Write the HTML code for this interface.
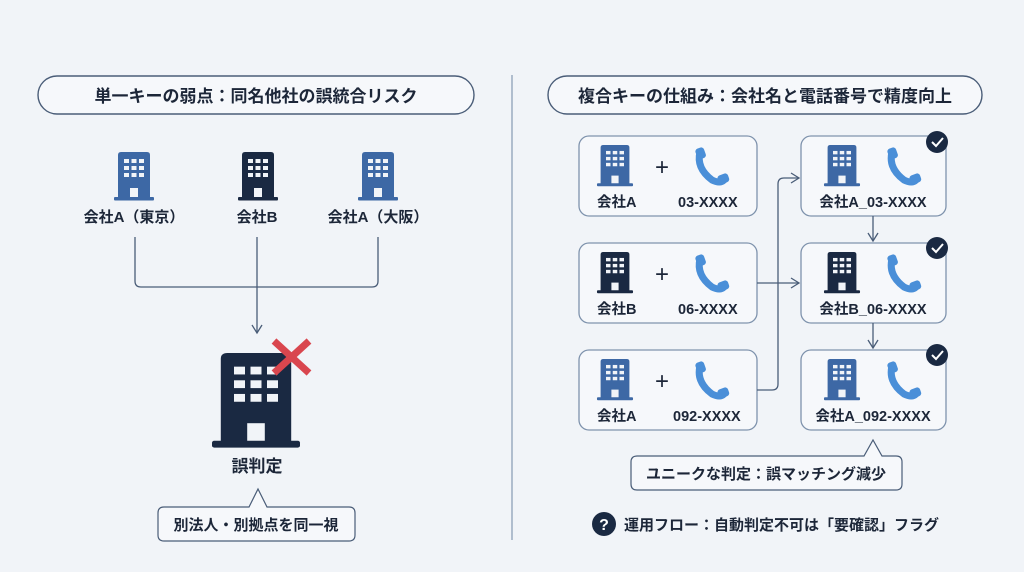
<!DOCTYPE html>
<html><head><meta charset="utf-8"><style>
html,body{margin:0;padding:0;background:#f1f4f8}
svg{display:block}
text{font-family:"Liberation Sans","Noto Sans CJK JP",sans-serif;font-weight:bold;fill:#1c2638}
</style></head><body>
<svg width="1024" height="572" viewBox="0 0 1024 572" xmlns="http://www.w3.org/2000/svg">
<defs>
<g id="bld">
<path d="M4 46 V3 Q4 0 7 0 H33 Q36 0 36 3 V46 Z"/>
<rect x="0" y="45" width="40" height="3.5" rx="1"/>
<g fill="#f1f4f8">
<rect x="10" y="7" width="5" height="4"/><rect x="17.5" y="7" width="5" height="4"/><rect x="25" y="7" width="5" height="4"/>
<rect x="10" y="14" width="5" height="4"/><rect x="17.5" y="14" width="5" height="4"/><rect x="25" y="14" width="5" height="4"/>
<rect x="10" y="21" width="5" height="4"/><rect x="17.5" y="21" width="5" height="4"/><rect x="25" y="21" width="5" height="4"/>
<rect x="16" y="36" width="8" height="9"/>
</g></g>
<g id="ph">
<path d="M6 4 Q2 20 18 32 Q26 36 30 32" fill="none" stroke="#4a8fd8" stroke-width="7" stroke-linecap="round"/>
<rect x="2" y="0" width="9" height="11" rx="3" fill="#4a8fd8" transform="rotate(-20 6 5)"/>
<rect x="24" y="26" width="11" height="9" rx="3" fill="#4a8fd8" transform="rotate(-20 30 31)"/>
</g>
<marker id="ar" markerWidth="12" markerHeight="12" refX="10" refY="6" orient="auto" markerUnits="userSpaceOnUse">
<path d="M2 1 L10 6 L2 11" fill="none" stroke="#4a5d78" stroke-width="1.3"/></marker>
</defs>

<!-- divider -->
<line x1="512" y1="75" x2="512" y2="540" stroke="#8ea0b8" stroke-width="1.3"/>

<!-- LEFT -->
<rect x="38" y="76" width="436" height="38" rx="19" fill="#f6f8fb" stroke="#4a5d78" stroke-width="1.4"/>
<text x="256" y="102" font-size="17" text-anchor="middle">単一キーの弱点：同名他社の誤統合リスク</text>

<use href="#bld" x="114" y="152" fill="#3d68a5"/>
<use href="#bld" x="238" y="152" fill="#1a2942"/>
<use href="#bld" x="358" y="152" fill="#3d68a5"/>
<text x="134" y="222" font-size="15" text-anchor="middle">会社A（東京）</text>
<text x="257" y="222" font-size="15" text-anchor="middle">会社B</text>
<text x="378" y="222" font-size="15" text-anchor="middle">会社A（大阪）</text>

<path d="M135 237 V281 Q135 287 141 287 H372 Q378 287 378 281 V237" fill="none" stroke="#4a5d78" stroke-width="1.3"/>
<line x1="257" y1="237" x2="257" y2="333" stroke="#4a5d78" stroke-width="1.3" marker-end="url(#ar)"/>

<use href="#bld" transform="translate(212 353) scale(2.2 1.95)" fill="#1a2942"/>
<rect x="266" y="341" width="40" height="40" fill="#f1f4f8" opacity="0"/>
<g stroke="#d9464e" stroke-width="7" stroke-linecap="butt">
<line x1="274" y1="341" x2="309" y2="373"/><line x1="309" y1="341" x2="274" y2="373"/></g>
<text x="257" y="472" font-size="17" text-anchor="middle">誤判定</text>

<path d="M164 507 H249 L258 489 L267 507 H349 Q355 507 355 513 V535 Q355 541 349 541 H164 Q158 541 158 535 V513 Q158 507 164 507 Z" fill="#f6f8fb" stroke="#4a5d78" stroke-width="1.2"/>
<text x="256" y="530" font-size="15" text-anchor="middle">別法人・別拠点を同一視</text>

<!-- RIGHT -->
<rect x="548" y="76" width="434" height="38" rx="19" fill="#f6f8fb" stroke="#4a5d78" stroke-width="1.4"/>
<text x="765" y="102" font-size="17" text-anchor="middle">複合キーの仕組み：会社名と電話番号で精度向上</text>

<g fill="#f6f8fb" stroke="#7f93ad" stroke-width="1.3">
<rect x="579" y="136" width="178" height="80" rx="10"/>
<rect x="579" y="243" width="178" height="80" rx="10"/>
<rect x="579" y="350" width="178" height="80" rx="10"/>
<rect x="801" y="136" width="145" height="80" rx="10"/>
<rect x="801" y="243" width="145" height="80" rx="10"/>
<rect x="801" y="350" width="145" height="80" rx="10"/>
</g>

<use href="#bld" transform="translate(597 145) scale(0.9 0.85)" fill="#3d68a5"/>
<use href="#bld" transform="translate(597 252) scale(0.9 0.85)" fill="#1a2942"/>
<use href="#bld" transform="translate(597 359) scale(0.9 0.85)" fill="#3d68a5"/>
<use href="#bld" transform="translate(824 145) scale(0.9 0.85)" fill="#3d68a5"/>
<use href="#bld" transform="translate(824 252) scale(0.9 0.85)" fill="#1a2942"/>
<use href="#bld" transform="translate(824 359) scale(0.9 0.85)" fill="#3d68a5"/>

<g font-size="24" font-weight="normal">
<text x="662" y="175" text-anchor="middle" style="font-weight:normal">+</text>
<text x="662" y="282" text-anchor="middle" style="font-weight:normal">+</text>
<text x="662" y="389" text-anchor="middle" style="font-weight:normal">+</text>
</g>
<use href="#ph" x="694" y="148"/><use href="#ph" x="694" y="255"/><use href="#ph" x="694" y="362"/>
<use href="#ph" x="886" y="148"/><use href="#ph" x="886" y="255"/><use href="#ph" x="886" y="362"/>

<g font-size="14.5">
<text x="597" y="207">会社A</text><text x="678" y="207">03-XXXX</text>
<text x="597" y="314">会社B</text><text x="678" y="314">06-XXXX</text>
<text x="597" y="421">会社A</text><text x="673" y="421">092-XXXX</text>
<text x="873" y="207" text-anchor="middle">会社A_03-XXXX</text>
<text x="873" y="314" text-anchor="middle">会社B_06-XXXX</text>
<text x="873" y="421" text-anchor="middle">会社A_092-XXXX</text>
</g>

<g>
<circle cx="937" cy="142" r="11" fill="#1a2942"/><path d="M932 142 L936 146 L943 138" fill="none" stroke="#fff" stroke-width="2"/>
<circle cx="937" cy="248" r="11" fill="#1a2942"/><path d="M932 248 L936 252 L943 244" fill="none" stroke="#fff" stroke-width="2"/>
<circle cx="937" cy="355" r="11" fill="#1a2942"/><path d="M932 355 L936 359 L943 351" fill="none" stroke="#fff" stroke-width="2"/>
</g>

<g fill="none" stroke="#4a5d78" stroke-width="1.3">
<path d="M757 390 H772 Q778 390 778 384 V184 Q778 178 784 178 H799" marker-end="url(#ar)"/>
<path d="M757 283 H799" marker-end="url(#ar)"/>
<path d="M873 216 V241" marker-end="url(#ar)"/>
<path d="M873 323 V348" marker-end="url(#ar)"/>
</g>

<path d="M637 456 H864 L873 440 L882 456 H896 Q902 456 902 462 V484 Q902 490 896 490 H637 Q631 490 631 484 V462 Q631 456 637 456 Z" fill="#f6f8fb" stroke="#4a5d78" stroke-width="1.2"/>
<text x="766" y="479" font-size="15" text-anchor="middle">ユニークな判定：誤マッチング減少</text>

<circle cx="604" cy="524" r="12" fill="#1a2942"/>
<text x="604" y="530" font-size="16" text-anchor="middle" style="fill:#fff">?</text>
<text x="624" y="530" font-size="15">運用フロー：自動判定不可は「要確認」フラグ</text>
</svg>
</body></html>
